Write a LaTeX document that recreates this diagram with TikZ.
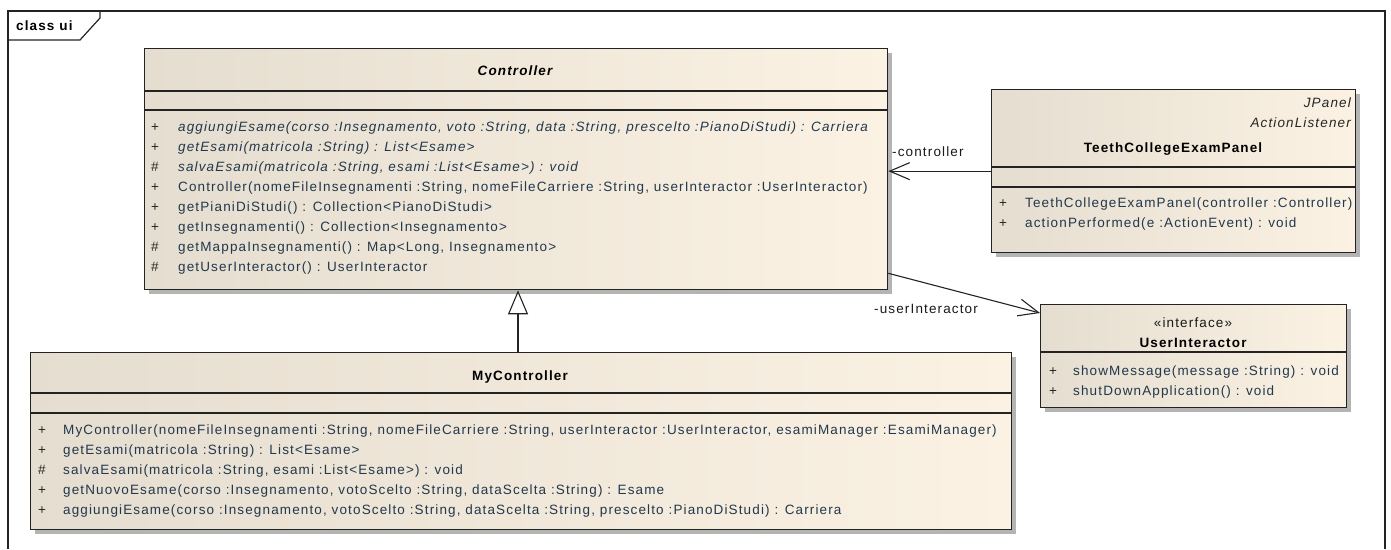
\documentclass[tikz,border=0pt]{standalone}
\usepackage{fontspec}
\setmainfont{Liberation Sans}[LetterSpace=8.4]
\usetikzlibrary{shadows,arrows.meta,calc}

\definecolor{boxL}{RGB}{229,221,207}
\definecolor{boxR}{RGB}{251,242,228}
\definecolor{membC}{RGB}{34,56,76}
\definecolor{shadowC}{RGB}{180,180,180}
\definecolor{lineC}{RGB}{35,35,35}

\tikzset{
  x=1pt, y=-1pt,
  umlbox/.style={draw=lineC, line width=1.3pt, inner sep=0pt, anchor=north west,
    left color=boxL, right color=boxR,
    drop shadow={shadow xshift=4pt, shadow yshift=-4pt, fill=shadowC, opacity=1}},
  sepline/.style={draw=lineC, line width=1.3pt},
  txt/.style={inner sep=0pt, text height=9.6pt, text depth=0pt,
    font=\fontsize{13.5}{15}\selectfont},
  vis/.style={txt, text=black!85, anchor=center},
  memb/.style={txt, text=membC, anchor=west},
  abstr/.style={memb, font=\fontsize{13.5}{15}\selectfont\itshape},
  cname/.style={txt, text=black, font=\fontsize{13.5}{15}\selectfont\bfseries},
  assoc/.style={draw=lineC, line width=1.1pt,
    -{Straight Barb[length=20pt,width=17pt]}},
  gen/.style={draw=lineC, line width=1.1pt,
    -{Triangle[length=24pt,width=20pt,fill=white]}},
  role/.style={txt, text=black!90},
}

\begin{document}
\begin{tikzpicture}
\useasboundingbox (0,0) rectangle (1391,549);

% package frame
\draw[draw=lineC, line width=1.5pt] (8,549) -- (8,11) -- (1385,11) -- (1385,549);
\draw[draw=lineC, line width=1.2pt] (8,40) -- (80,40) -- (100,18) -- (100,11);
\node[cname, anchor=west] (frameLabel) at (16,26) {class ui};

% ---------- Controller ----------
\node[umlbox, minimum width=743pt, minimum height=241pt] (ctrl) at (144,48) {};
\draw[sepline] (144,91) -- (887,91);
\draw[sepline] (144,110) -- (887,110);
\node[cname, font=\fontsize{13.5}{15}\selectfont\bfseries\itshape] (ctrlName) at (515,71) {Controller};
\node[vis] (cv1) at (155,127) {+};
\node[abstr] (cm1) at (178,127) {aggiungiEsame(corso :Insegnamento, voto :String, data :String, prescelto :PianoDiStudi) : Carriera};
\node[vis] (cv2) at (155,147) {+};
\node[abstr] (cm2) at (178,147) {getEsami(matricola :String) : List<Esame>};
\node[vis] (cv3) at (155,167) {\#};
\node[abstr] (cm3) at (178,167) {salvaEsami(matricola :String, esami :List<Esame>) : void};
\node[vis] (cv4) at (155,187) {+};
\node[memb] (cm4) at (178,187) {Controller(nomeFileInsegnamenti :String, nomeFileCarriere :String, userInteractor :UserInteractor)};
\node[vis] (cv5) at (155,207) {+};
\node[memb] (cm5) at (178,207) {getPianiDiStudi() : Collection<PianoDiStudi>};
\node[vis] (cv6) at (155,227) {+};
\node[memb] (cm6) at (178,227) {getInsegnamenti() : Collection<Insegnamento>};
\node[vis] (cv7) at (155,247) {\#};
\node[memb] (cm7) at (178,247) {getMappaInsegnamenti() : Map<Long, Insegnamento>};
\node[vis] (cv8) at (155,267) {\#};
\node[memb] (cm8) at (178,267) {getUserInteractor() : UserInteractor};

% ---------- TeethCollegeExamPanel ----------
\node[umlbox, minimum width=364pt, minimum height=163pt] (tce) at (991,89) {};
\draw[sepline] (991,167) -- (1355,167);
\draw[sepline] (991,187) -- (1355,187);
\node[abstr, text=black!85, anchor=east] (tceI1) at (1351,103) {JPanel};
\node[abstr, text=black!85, anchor=east] (tceI2) at (1351,123) {ActionListener};
\node[cname] (tceName) at (1173,148) {TeethCollegeExamPanel};
\node[vis] (tv1) at (1003,203) {+};
\node[memb] (tm1) at (1025,203) {TeethCollegeExamPanel(controller :Controller)};
\node[vis] (tv2) at (1003,223) {+};
\node[memb] (tm2) at (1025,223) {actionPerformed(e :ActionEvent) : void};

% ---------- UserInteractor ----------
\node[umlbox, minimum width=306pt, minimum height=103pt] (ui) at (1040,304) {};
\draw[sepline] (1040,352) -- (1346,352);
\node[txt, text=black!90] (uiSt) at (1193,323) {«interface»};
\node[cname] (uiName) at (1193,343) {UserInteractor};
\node[vis] (uv1) at (1053,371) {+};
\node[memb] (um1) at (1073,371) {showMessage(message :String) : void};
\node[vis] (uv2) at (1053,391) {+};
\node[memb] (um2) at (1073,391) {shutDownApplication() : void};

% ---------- MyController ----------
\node[umlbox, minimum width=981pt, minimum height=177pt] (myc) at (30,352) {};
\draw[sepline] (30,393) -- (1011,393);
\draw[sepline] (30,413) -- (1011,413);
\node[cname] (mycName) at (520,376) {MyController};
\node[vis] (mv1) at (42,430) {+};
\node[memb] (mm1) at (63,430) {MyController(nomeFileInsegnamenti :String, nomeFileCarriere :String, userInteractor :UserInteractor, esamiManager :EsamiManager)};
\node[vis] (mv2) at (42,450) {+};
\node[memb] (mm2) at (63,450) {getEsami(matricola :String) : List<Esame>};
\node[vis] (mv3) at (42,470) {\#};
\node[memb] (mm3) at (63,470) {salvaEsami(matricola :String, esami :List<Esame>) : void};
\node[vis] (mv4) at (42,490) {+};
\node[memb] (mm4) at (63,490) {getNuovoEsame(corso :Insegnamento, votoScelto :String, dataScelta :String) : Esame};
\node[vis] (mv5) at (42,510) {+};
\node[memb] (mm5) at (63,510) {aggiungiEsame(corso :Insegnamento, votoScelto :String, dataScelta :String, prescelto :PianoDiStudi) : Carriera};

% ---------- relationships ----------
\coordinate (genX) at (518,0);
\draw[gen] (myc.north -| genX) -- (ctrl.south -| genX);

\draw[assoc] (tce.west) -- (tce.west -| ctrl.east);
\node[role, anchor=west] (roleCtrl) at (892,152) {-controller};

\draw[assoc] ($(ctrl.south east)+(0,-17)$) -- ($(ui.north west)+(0,9)$);
\node[role, anchor=west] (roleUI) at (874,309) {-userInteractor};
\end{tikzpicture}
\end{document}
